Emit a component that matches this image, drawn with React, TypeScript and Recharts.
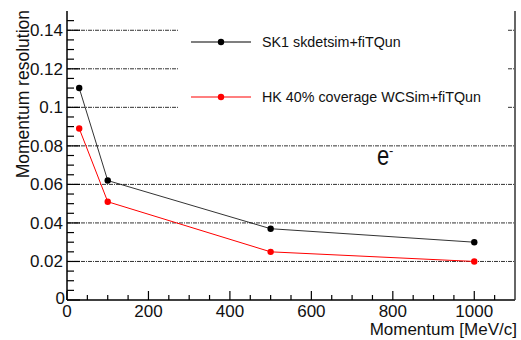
import React from 'react';
import { LineChart, Line, XAxis, YAxis, ReferenceLine, Legend } from 'recharts';

const momentum = [30, 100, 500, 1000];
const sk1Resolution = [0.11, 0.062, 0.037, 0.03];
const hkResolution = [0.089, 0.051, 0.025, 0.02];

const xMajorTicks = [0, 200, 400, 600, 800, 1000];
const xAllTicks = [0, 50, 100, 150, 200, 250, 300, 350, 400, 450, 500, 550, 600, 650, 700, 750, 800, 850, 900, 950, 1000, 1050];
const yMajorTicks = [0, 0.02, 0.04, 0.06, 0.08, 0.1, 0.12, 0.14];
const yAllTicks = [0, 0.005, 0.01, 0.015, 0.02, 0.025, 0.03, 0.035, 0.04, 0.045, 0.05, 0.055, 0.06, 0.065, 0.07, 0.075, 0.08, 0.085, 0.09, 0.095, 0.1, 0.105, 0.11, 0.115, 0.12, 0.125, 0.13, 0.135, 0.14, 0.145];
const gridValues = [0.02, 0.04, 0.06, 0.08, 0.1, 0.12, 0.14];

const seriesNames = ['SK1 skdetsim+fiTQun', 'HK 40% coverage WCSim+fiTQun'];
const seriesColors = ['#000000', '#ff0000'];

const sk1Data = momentum.map((x, i) => ({ x, y: sk1Resolution[i] }));
const hkData = momentum.map((x, i) => ({ x, y: hkResolution[i] }));

const FONT = '"Liberation Sans", Arial, Helvetica, sans-serif';

const isMajor = (v: number, majors: number[]) => majors.some((m) => Math.abs(m - v) < 1e-9);

const XTick = (props: any) => {
  const { x, y, payload } = props;
  const major = isMajor(payload.value, xMajorTicks);
  return (
    <g>
      <line x1={x} x2={x} y1={y} y2={y - (major ? 9 : 5)} stroke="#000" strokeWidth={1.2} />
      {major && (
        <text x={x} y={y + 17} textAnchor="middle" fontSize={17} fontFamily={FONT} fill="#111">
          {String(payload.value)}
        </text>
      )}
    </g>
  );
};

const YTick = (props: any) => {
  const { x, y, payload } = props;
  const major = isMajor(payload.value, yMajorTicks);
  return (
    <g>
      <line x1={x} x2={x + (major ? 13 : 7)} y1={y} y2={y} stroke="#000" strokeWidth={1.2} />
      {major && (
        <text x={payload.value === 0 ? x - 2 : x - 4} y={payload.value === 0 ? y + 4 : y + 6} textAnchor="end" fontSize={17} fontFamily={FONT} fill="#111">
          {String(payload.value)}
        </text>
      )}
    </g>
  );
};

const RightTick = (props: any) => {
  const { x, y } = props;
  return <line x1={x} x2={x - 4} y1={y} y2={y} stroke="#333" strokeWidth={1.2} />;
};

const LegendContent = (props: any) => {
  const payload = [...(props.payload || [])].sort(
    (a: any, b: any) => seriesNames.indexOf(a.value) - seriesNames.indexOf(b.value)
  );
  return (
    <div style={{ position: 'relative', width: '100%', height: '100%' }}>
      {payload.map((p: any, i: number) => (
        <div key={i} style={{ position: 'absolute', left: 0, top: 18 + i * 55, height: 24, width: 330 }}>
          <svg width={80} height={24} style={{ position: 'absolute', left: 0, top: 0 }}>
            <line x1={13} x2={73} y1={12} y2={12} stroke={p.color} strokeWidth={1.2} />
            <circle cx={43} cy={12} r={3.2} fill={p.color} />
          </svg>
          <span style={{ position: 'absolute', left: 84, top: 3, fontSize: 14.3, fontFamily: FONT, color: '#111', whiteSpace: 'nowrap', lineHeight: '18px' }}>
            {p.value}
          </span>
        </div>
      ))}
    </div>
  );
};

export default function App() {
  return (
    <div style={{ position: 'absolute', left: 0, top: 0, width: 521, height: 340, background: '#fff' }}>
      <LineChart width={521} height={340} margin={{ top: 11, right: 0, bottom: 0, left: 0 }}>
        <XAxis
          xAxisId="top"
          orientation="top"
          type="number"
          dataKey="x"
          domain={[0, 1100]}
          height={0}
          tick={false}
          tickLine={false}
          axisLine={{ stroke: '#222', strokeWidth: 1 }}
        />
        <XAxis
          type="number"
          dataKey="x"
          domain={[0, 1100]}
          ticks={xAllTicks}
          interval={0}
          height={40}
          tickSize={0}
          tickMargin={0}
          tick={<XTick />}
          axisLine={{ stroke: '#000', strokeWidth: 1.5 }}
          label={{
            content: () => (
              <text x={517} y={335} textAnchor="end" fontSize={17} fontFamily={FONT} fill="#111">
                Momentum [MeV/c]
              </text>
            ),
          }}
        />
        <YAxis
          type="number"
          domain={[0, 0.15]}
          ticks={yAllTicks}
          interval={0}
          width={67}
          tickSize={0}
          tickMargin={0}
          tick={<YTick />}
          axisLine={{ stroke: '#000', strokeWidth: 1.5 }}
          label={{
            content: () => (
              <text x={28.5} y={10} transform="rotate(-90, 28.5, 10)" textAnchor="end" fontSize={17.5} fontFamily={FONT} fill="#111">
                Momentum resolution
              </text>
            ),
          }}
        />
        <YAxis
          yAxisId="r"
          orientation="right"
          type="number"
          domain={[0, 0.15]}
          ticks={yMajorTicks}
          interval={0}
          width={6}
          tickSize={0}
          tickMargin={0}
          tick={<RightTick />}
          axisLine={{ stroke: '#333', strokeWidth: 1.5 }}
        />
        {gridValues.map((v) => (
          <ReferenceLine key={v} y={v} stroke="#333" strokeWidth={1} strokeDasharray="4 1 1 1" />
        ))}
        <Line
          data={sk1Data}
          dataKey="y"
          name={seriesNames[0]}
          stroke={seriesColors[0]}
          strokeOpacity={0.8}
          strokeWidth={1}
          dot={{ r: 3.2, fill: seriesColors[0], stroke: seriesColors[0], strokeWidth: 0 }}
          isAnimationActive={false}
        />
        <Line
          data={hkData}
          dataKey="y"
          name={seriesNames[1]}
          stroke={seriesColors[1]}
          strokeWidth={1}
          dot={{ r: 3.2, fill: seriesColors[1], stroke: seriesColors[1], strokeWidth: 0 }}
          isAnimationActive={false}
        />
        <Legend
          layout="vertical"
          align="center"
          verticalAlign="middle"
          itemSorter={null as any}
          content={<LegendContent />}
          wrapperStyle={{ left: 178, top: 12, width: 330, height: 128, background: '#fff' }}
        />
      </LineChart>
      <svg width={521} height={340} style={{ position: 'absolute', left: 0, top: 0, pointerEvents: 'none' }}>
        <text x={377} y={165} fontSize={22} fontFamily={FONT} fill="#111" transform="translate(0,165) scale(1,1.25) translate(0,-165)">
          e
        </text>
        <text x={389} y={155} fontSize={13} fontFamily={FONT} fill="#111">
          -
        </text>
      </svg>
    </div>
  );
}
